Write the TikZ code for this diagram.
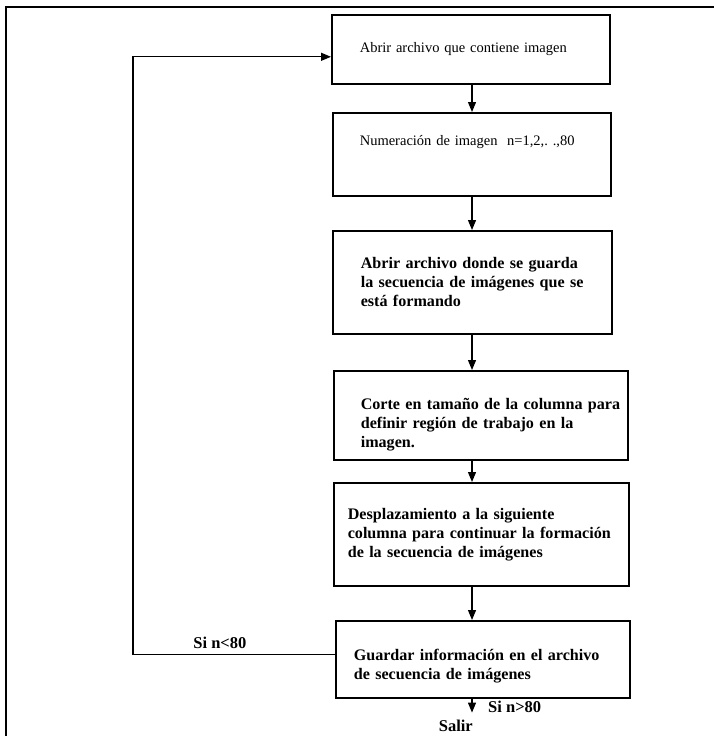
\documentclass[tikz,border=0pt]{standalone}
\usepackage{fontspec}
\setmainfont{Liberation Serif}
\usetikzlibrary{arrows.meta, positioning, calc}

\begin{document}
\begin{tikzpicture}[
	x=1pt, y=-1pt, % coordenadas en pixeles, y hacia abajo
	% --- Estilos ---
	caja/.style={
		draw,
		rectangle,
		line width=1.6pt,
		anchor=north west,
		align=left,
		inner sep=0pt,
		font=\fontsize{16.1}{19}\selectfont\bfseries
	},
	caja_fina/.style={
		caja,
		font=\fontsize{14.5}{17}\selectfont
	},
	% Sangria izquierda del texto dentro de la caja
	sangria/.style={execute at begin node={\leftskip=#1\relax\rightskip=-12pt plus 1fil\relax}},
	flecha/.style={
		-{Triangle[length=10pt, width=8pt]},
		line width=1.2pt
	},
	marco/.style={line width=1.8pt},
	etiqueta/.style={
		font=\fontsize{16.5}{19}\selectfont\bfseries,
		inner sep=0pt
	}
	]
	\useasboundingbox[fill=white] (0,0) rectangle (714,736);
	
	% 1. Marco de la pagina
	\draw[marco] (6,736) -- (6,7) -- (714,7);
	
	% 2. Cajas del diagrama
	\node[caja_fina, text width=278pt, minimum height=69pt, sangria=28pt] (abrir) at (331,14)
	{Abrir archivo que contiene imagen};
	\node[caja_fina, text width=278pt, minimum height=83pt, sangria=27pt] (numeracion) at (332,112)
	{Numeración de imagen~ n=1,2,.\ .,80\rule[-27.5pt]{0pt}{0pt}};
	\node[caja, text width=279pt, minimum height=103pt, sangria=28pt] (archivo) at (332,230)
	{Abrir archivo donde se guarda\\ la secuencia de imágenes que se\\ está formando};
	\node[caja, text width=294pt, minimum height=89pt, sangria=27pt] (corte) at (333,370)
	{\rule{0pt}{30pt}Corte en tamaño de la columna para\\ definir región de trabajo en la\\ imagen.};
	\node[caja, text width=295pt, minimum height=103pt, sangria=14pt] (desplaza) at (333,482)
	{Desplazamiento a la siguiente\\ columna para continuar la formación\\ de la secuencia de imágenes};
	\node[caja, text width=294pt, minimum height=77pt, sangria=18pt] (guardar) at (335,620)
	{\rule{0pt}{24pt}Guardar información en el archivo\\ de secuencia de imágenes};
	
	% 3. Flechas verticales sobre un mismo eje
	\coordinate (eje) at (472,0);
	\draw[flecha] (abrir.south -| eje) -- (numeracion.north -| eje);
	\draw[flecha] (numeracion.south -| eje) -- (archivo.north -| eje);
	\draw[flecha] (archivo.south -| eje) -- (corte.north -| eje);
	\draw[flecha] (corte.south -| eje) -- (desplaza.north -| eje);
	\draw[flecha] (desplaza.south -| eje) -- (guardar.north -| eje);
	
	% 4. Bucle de regreso (izquierda)
	\draw[flecha] ([yshift=4.5pt]guardar.west)
	-- node[etiqueta, pos=0.57, above=6pt] (si_menor) {Si n<80} ++(-202,0) coordinate (esquina)
	|- ([yshift=-7.5pt]abrir.west);
	
	% 5. Salida
	\draw[flecha] (guardar.south -| eje) -- ++(0,14) coordinate (salida);
	\node[etiqueta, anchor=base west] (si_mayor) at ([xshift=16pt]salida) {Si n>80};
	\node[etiqueta, anchor=north east] (salir) at ([xshift=1pt, yshift=-7pt]salida) {Salir};
	
\end{tikzpicture}
\end{document}
